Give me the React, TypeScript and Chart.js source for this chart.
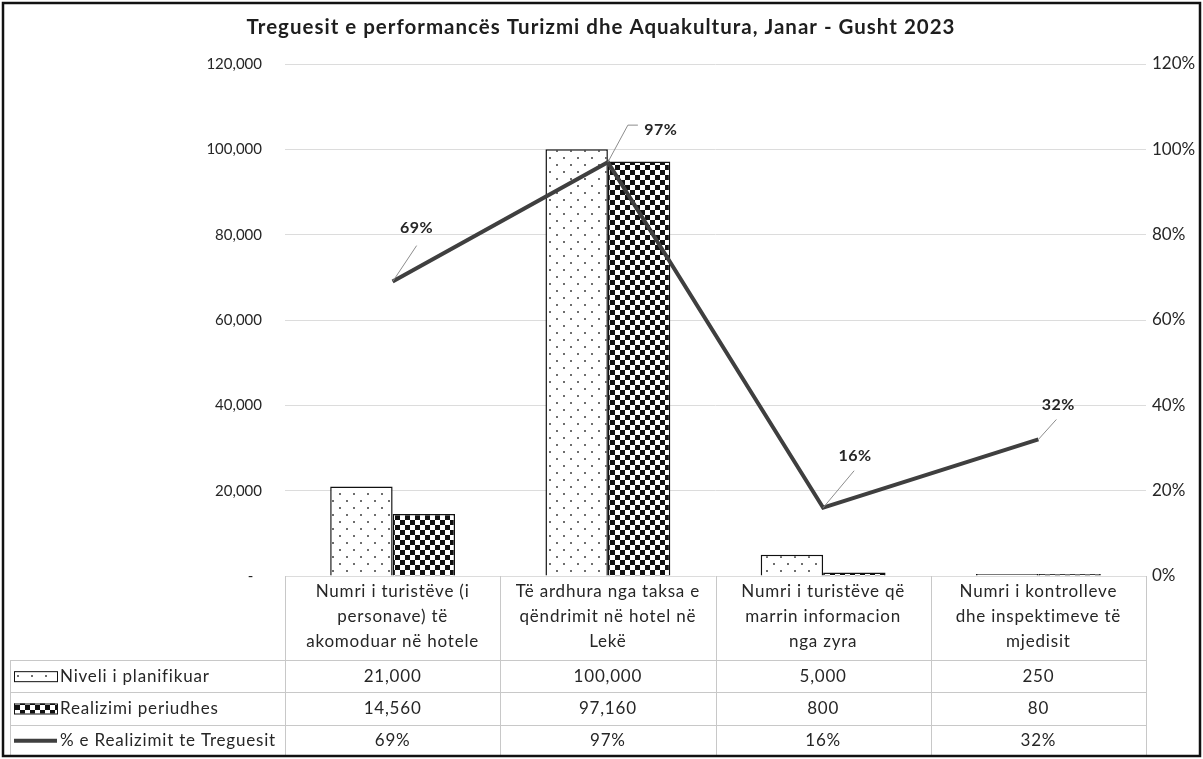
import React, { useEffect, useRef } from 'react';
import { Chart, registerables } from 'chart.js';

Chart.register(...registerables);

const chartTitle = 'Treguesit e performancës Turizmi dhe Aquakultura, Janar - Gusht 2023';
const categories: string[][] = [
  ['Numri i turistëve (i', 'personave) të', 'akomoduar në hotele'],
  ['Të ardhura nga taksa e', 'qëndrimit në hotel në', 'Lekë'],
  ['Numri i turistëve që', 'marrin informacion', 'nga zyra'],
  ['Numri i kontrolleve', 'dhe inspektimeve të', 'mjedisit'],
];
const seriesNames = ['Niveli i planifikuar', 'Realizimi periudhes', '% e Realizimit te Treguesit'];
const plannedValues = [21000, 100000, 5000, 250];
const realizedValues = [14560, 97160, 800, 80];
const percentValues = [69, 97, 16, 32];
const leftAxisMax = 120000;
const leftAxisStep = 20000;
const rightAxisMax = 120;
const rightAxisStep = 20;

const FONT = 'Lato, "Open Sans", sans-serif';
const TEXT = '#262626';

// label placement relative to each line point (style only)
const labelOffsets = [
  { dx: 24, dy: -54, path: [[24, -36]] },
  { dx: 53, dy: -32, path: [[20, -37], [30, -37]] },
  { dx: 32, dy: -52, path: [[31, -37]] },
  { dx: 20, dy: -35, path: [[18, -20]] },
];

function makeDotPattern(): CanvasPattern | string {
  const c = document.createElement('canvas');
  c.width = 14;
  c.height = 14;
  const g = c.getContext('2d')!;
  g.fillStyle = '#ffffff';
  g.fillRect(0, 0, 14, 14);
  g.fillStyle = '#6e6e6e';
  g.fillRect(3, 3, 2, 2);
  g.fillRect(10, 10, 2, 2);
  return g.createPattern(c, 'repeat') || '#eee';
}

function makeCheckPattern(): CanvasPattern | string {
  const c = document.createElement('canvas');
  c.width = 10;
  c.height = 10;
  const g = c.getContext('2d')!;
  g.fillStyle = '#ffffff';
  g.fillRect(0, 0, 10, 10);
  g.fillStyle = '#111111';
  g.fillRect(0, 0, 5, 5);
  g.fillRect(5, 5, 5, 5);
  return g.createPattern(c, 'repeat') || '#333';
}

const fmt = (v: number) => v.toLocaleString('en-US');

export default function App() {
  const ref = useRef<HTMLCanvasElement | null>(null);

  useEffect(() => {
    document.body.style.margin = '0';
    const canvas = ref.current;
    if (!canvas) return;
    const dotPat = makeDotPattern();
    const checkPat = makeCheckPattern();

    const overlay = {
      id: 'overlay',
      afterDraw(chart: any) {
        const ctx = chart.ctx as CanvasRenderingContext2D & { letterSpacing?: string };
        const area = chart.chartArea;
        const xs = chart.scales.x;
        const W = chart.width;
        const H = chart.height;
        ctx.save();

        // Title
        ctx.fillStyle = '#1e1e1e';
        ctx.font = `bold 20.5px ${FONT}`;
        ctx.letterSpacing = '1px';
        ctx.textAlign = 'center';
        ctx.textBaseline = 'middle';
        ctx.fillText(chartTitle, 601, 27);

        // Data labels with leader lines
        ctx.letterSpacing = '0.5px';
        const meta = chart.getDatasetMeta(2);
        meta.data.forEach((pt: any, i: number) => {
          const o = labelOffsets[i];
          ctx.strokeStyle = '#8c8c8c';
          ctx.lineWidth = 1;
          ctx.beginPath();
          ctx.moveTo(pt.x, pt.y);
          o.path.forEach(([px, py]) => ctx.lineTo(pt.x + px, pt.y + py));
          ctx.stroke();
          ctx.fillStyle = TEXT;
          ctx.font = `bold 16px ${FONT}`;
          ctx.textAlign = 'center';
          ctx.textBaseline = 'middle';
          ctx.fillText(percentValues[i] + '%', pt.x + o.dx, pt.y + o.dy);
        });

        // Data table
        const catW = (area.right - area.left) / categories.length;
        const colEdges: number[] = [];
        for (let i = 0; i <= categories.length; i++) colEdges.push(area.left + i * catW);
        const tableLeft = 10;
        const headerTop = area.bottom;
        const headerBottom = 660;
        const rowH = (H - 2 - headerBottom) / 3;
        const rowTops = [headerBottom, headerBottom + rowH, headerBottom + 2 * rowH, headerBottom + 3 * rowH];

        ctx.strokeStyle = '#c8c8c8';
        ctx.lineWidth = 1;
        ctx.beginPath();
        for (let r = 0; r < 3; r++) {
          ctx.moveTo(tableLeft, Math.round(rowTops[r]) + 0.5);
          ctx.lineTo(colEdges[colEdges.length - 1], Math.round(rowTops[r]) + 0.5);
        }
        colEdges.forEach((x) => {
          ctx.moveTo(Math.round(x) + 0.5, headerTop);
          ctx.lineTo(Math.round(x) + 0.5, H - 3);
        });
        ctx.moveTo(tableLeft + 0.5, headerBottom);
        ctx.lineTo(tableLeft + 0.5, H - 3);
        ctx.stroke();

        // headers
        ctx.letterSpacing = '0.8px';
        ctx.fillStyle = TEXT;
        ctx.font = `17px ${FONT}`;
        ctx.textAlign = 'center';
        ctx.textBaseline = 'middle';
        categories.forEach((lines, i) => {
          const cx = xs.getPixelForValue(i);
          lines.forEach((ln, j) => ctx.fillText(ln, cx, 592 + j * 25));
        });

        // rows
        const rows = [
          plannedValues.map(fmt),
          realizedValues.map(fmt),
          percentValues.map((v) => v + '%'),
        ];
        rows.forEach((vals, r) => {
          const cy = (rowTops[r] + rowTops[r + 1]) / 2;
          ctx.fillStyle = TEXT;
          vals.forEach((v, i) => {
            ctx.textAlign = 'center';
            ctx.fillText(v, xs.getPixelForValue(i), cy);
          });
          // legend key
          const kx = 14;
          const kw = 43;
          if (r < 2) {
            ctx.fillStyle = r === 0 ? (dotPat as any) : (checkPat as any);
            ctx.fillRect(kx, cy - 5, kw, 10);
            ctx.strokeStyle = '#111';
            ctx.lineWidth = 1;
            ctx.strokeRect(kx + 0.5, cy - 5 + 0.5, kw, 10);
          } else {
            ctx.strokeStyle = '#3f3f3f';
            ctx.lineWidth = 4;
            ctx.beginPath();
            ctx.moveTo(kx, cy);
            ctx.lineTo(kx + kw, cy);
            ctx.stroke();
          }
          ctx.fillStyle = TEXT;
          ctx.textAlign = 'left';
          ctx.fillText(seriesNames[r], 60, cy);
        });

        // Outer border
        ctx.letterSpacing = '0px';
        ctx.strokeStyle = '#111111';
        ctx.lineWidth = 2.5;
        ctx.strokeRect(3, 3, W - 6, H - 6);
        ctx.restore();
      },
    };

    const chart = new Chart(canvas, {
      type: 'bar',
      data: {
        labels: categories.map((c) => c.join(' ')),
        datasets: [
          {
            type: 'bar',
            label: seriesNames[0],
            data: plannedValues,
            backgroundColor: dotPat as any,
            borderColor: '#111111',
            borderWidth: 1.5,
            minBarLength: 2,
            yAxisID: 'y',
            order: 2,
            categoryPercentage: 0.58,
            barPercentage: 1.0,
          },
          {
            type: 'bar',
            label: seriesNames[1],
            data: realizedValues,
            backgroundColor: checkPat as any,
            borderColor: '#111111',
            borderWidth: 1.5,
            minBarLength: 2,
            yAxisID: 'y',
            order: 2,
            categoryPercentage: 0.58,
            barPercentage: 1.0,
          },
          {
            type: 'line',
            label: seriesNames[2],
            data: percentValues,
            borderColor: '#3f3f3f',
            borderWidth: 4,
            pointRadius: 0,
            tension: 0,
            fill: false,
            yAxisID: 'y1',
            order: 0,
          } as any,
        ],
      },
      options: {
        responsive: true,
        maintainAspectRatio: false,
        animation: false,
        events: [],
        layout: { padding: { top: 64, bottom: 183, left: 0, right: 0 } },
        plugins: {
          legend: { display: false },
          title: { display: false },
          tooltip: { enabled: false },
        },
        scales: {
          x: {
            display: false,
            offset: true,
            grid: { display: false },
          },
          y: {
            position: 'left',
            min: 0,
            max: leftAxisMax,
            ticks: {
              stepSize: leftAxisStep,
              padding: 23,
              color: TEXT,
              font: { family: FONT, size: 15 },
              callback: (v: any) => (Number(v) === 0 ? '-\u2007' : fmt(Number(v))),
            },
            grid: { color: '#dcdcdc', drawTicks: false, lineWidth: 1 },
            border: { display: false },
            afterFit: (s: any) => {
              s.width = 285;
            },
          },
          y1: {
            position: 'right',
            min: 0,
            max: rightAxisMax,
            ticks: {
              stepSize: rightAxisStep,
              padding: 6,
              color: TEXT,
              font: { family: FONT, size: 17 },
              callback: (v: any) => v + '%',
            },
            grid: { drawOnChartArea: false, drawTicks: false },
            border: { display: false },
            afterFit: (s: any) => {
              s.width = 57;
            },
          },
        },
      },
      plugins: [overlay],
    });

    return () => chart.destroy();
  }, []);

  return (
    <div style={{ width: 1203, height: 759, position: 'relative', background: '#ffffff' }}>
      <canvas ref={ref} />
    </div>
  );
}
